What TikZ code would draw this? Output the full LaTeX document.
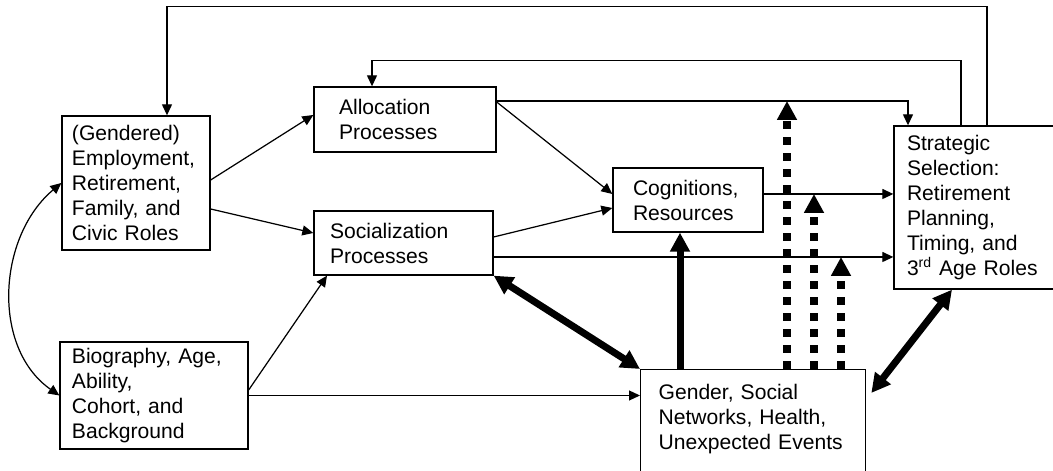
\documentclass[tikz,border=0pt]{standalone}
\usepackage{fontspec}
\setmainfont{Liberation Sans}
\usetikzlibrary{arrows.meta}

\begin{document}
\begin{tikzpicture}[font=\fontsize{12}{14.2}\selectfont,
  box/.style={draw,line width=0.75pt,align=left,inner ysep=0pt},
  arr/.style={line width=0.7pt,-{Triangle[length=0.22cm,width=0.2cm]}},
  arrboth/.style={line width=0.7pt,{Triangle[length=0.22cm,width=0.2cm]}-{Triangle[length=0.22cm,width=0.2cm]}},
  fat/.style={line width=0.14cm,-{Triangle[length=0.38cm,width=0.38cm]}},
  fatboth/.style={line width=0.14cm,{Triangle[length=0.38cm,width=0.38cm]}-{Triangle[length=0.38cm,width=0.38cm]}},
  fatdash/.style={fat,line width=0.15cm,dash pattern=on 0.15cm off 0.17cm}]
\useasboundingbox (0,0) rectangle (21.06,9.42);

\node[box,text width=2.56cm,inner xsep=0.2cm,minimum height=2.68cm] (roles) at (2.72,5.76)
  {(Gendered)\\Employment,\\Retirement,\\Family, and\\Civic Roles};
\node[box,text width=3.28cm,inner xsep=0.24cm,minimum height=2.14cm] (bio) at (3.08,1.51)
  {Biography, Age,\\Ability,\\Cohort, and\\Background};
\node[box,text width=2.64cm,inner xsep=0.5cm,minimum height=1.3cm] (alloc) at (8.10,7.03)
  {Allocation\\Processes};
\node[box,text width=2.94cm,inner xsep=0.32cm,minimum height=1.28cm] (soc) at (8.07,4.56)
  {Socialization\\Processes};
\node[box,text width=2.2cm,inner xsep=0.4cm,minimum height=1.28cm] (cog) at (13.76,5.42)
  {Cognitions,\\Resources};
\node[box,text width=2.8cm,inner xsep=0.26cm,minimum height=3.26cm] (strat) at (19.54,5.27)
  {Strategic\\Selection:\\Retirement\\Planning,\\Timing, and\\3\textsuperscript{rd} Age Roles};
\node[box,text width=3.78cm,inner xsep=0.36cm,inner ysep=0.3cm,text depth=2cm,anchor=north west] (gender) at (12.80,2.04)
  {Gender, Social\\Networks, Health,\\Unexpected Events};

\coordinate (a2s) at ([yshift=0.37cm]alloc.east);
\coordinate (c2s) at ([yshift=0.12cm]cog.east);
\coordinate (s2s) at ([yshift=-0.28cm]soc.east);

\draw[arr] ([xshift=0.2cm]strat.north) -- ++(0,2.38) -| ([xshift=0.62cm]roles.north);
\draw[arr] ([xshift=-0.32cm]strat.north) -- ++(0,1.3) -| ([xshift=-0.66cm]alloc.north);
\draw[arr] (a2s) -| ([xshift=-1.38cm]strat.north);
\draw[arr] (c2s) -- (c2s -| strat.west);
\draw[arr] (s2s) -- (s2s -| strat.west);
\draw[arr] ([yshift=0.06cm]roles.east) -- ([yshift=0.09cm]alloc.west);
\draw[arr] ([yshift=-0.52cm]roles.east) -- ([yshift=0.2cm]soc.west);
\draw[arr] ([yshift=0.35cm]alloc.east) -- ([yshift=0.12cm]cog.west);
\draw[arr] ([yshift=0.12cm]soc.east) -- ([yshift=-0.16cm]cog.west);
\draw[arr] ([yshift=0.11cm]bio.east) -- ([xshift=-1.53cm]soc.south);
\draw[arr] (bio.east) -- (bio.east -| gender.west);
\draw[arrboth] (roles.west) to[out=220,in=145] (bio.west);

\draw[fatboth] (soc.south east) -- (gender.north west);
\draw[fatboth] ([shift={(0.1cm,-0.48cm)}]gender.north east) -- ([xshift=-0.5cm]strat.south);
\coordinate (up) at ([xshift=0.8cm]gender.north west);
\draw[fat] (up) -- (up |- cog.south);
\foreach \dx/\tip in {2.94/a2s,3.48/c2s,4.02/s2s}{
  \coordinate (d) at ([xshift=\dx cm]gender.north west);
  \draw[fatdash] (d) -- (d |- \tip);
}
\end{tikzpicture}
\end{document}
